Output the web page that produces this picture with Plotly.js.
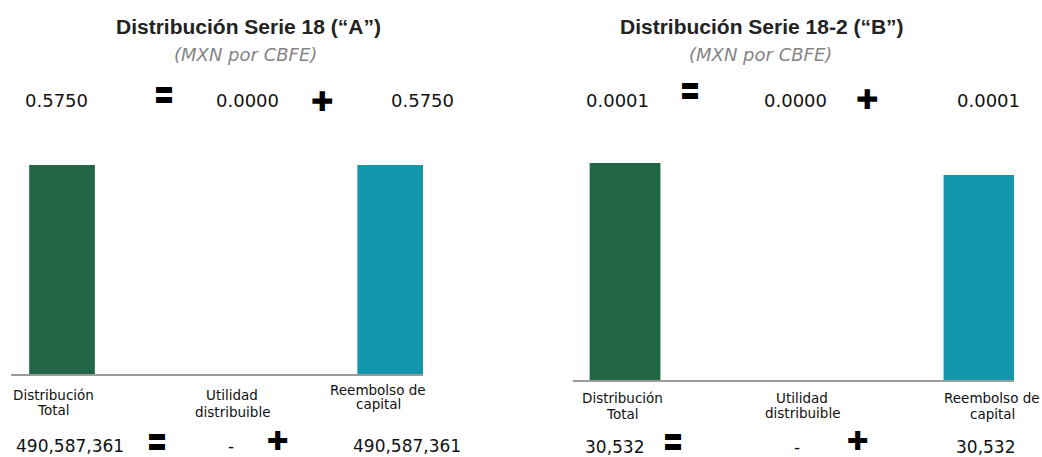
<!DOCTYPE html>
<html>
<head>
<meta charset="utf-8">
<script src="https://cdn.plot.ly/plotly-3.0.1.min.js"></script>
<style>
html,body{margin:0;padding:0;background:#fff;}
#chart{width:1042px;height:457px;}
</style>
</head>
<body>
<div id="chart"></div>
<script>
// ---- data ----
const categories = ['Distribución Total', 'Utilidad distribuible', 'Reembolso de capital'];
const barsA = [490587361, 0, 490587361];      // Serie 18 ("A") bar heights
const barsB = [30532, 0, 28850];              // Serie 18-2 ("B") bar heights (as drawn)
const perCbfeA = ['0.5750', '0.0000', '0.5750'];
const perCbfeB = ['0.0001', '0.0000', '0.0001'];
const totalsA = ['490,587,361', '-', '490,587,361'];
const totalsB = ['30,532', '-', '30,532'];
const titleA = 'Distribución Serie 18 (“A”)';
const titleB = 'Distribución Serie 18-2 (“B”)';
const subtitle = '(MXN por CBFE)';
const labelLines = [['Distribución', 'Total'], ['Utilidad', 'distribuible'], ['Reembolso de', 'capital']];

// ---- styling ----
const GREEN = '#216647';
const TEAL = '#1297ad';
const barColors = [GREEN, GREEN, TEAL];
const W = 1042, H = 457;
const px = x => x / W;
const py = y => 1 - y / H;

const traces = [
  {type: 'bar', x: categories, y: barsA, xaxis: 'x', yaxis: 'y', width: 0.4,
   marker: {color: barColors, line: {width: 0}}, hoverinfo: 'none'},
  {type: 'bar', x: categories, y: barsB, xaxis: 'x2', yaxis: 'y2', width: 0.4,
   marker: {color: barColors, line: {width: 0}}, hoverinfo: 'none'}
];

const ann = [];
function txt(t, x, y, font) {
  ann.push({text: t, x: px(x), y: py(y), xref: 'paper', yref: 'paper',
            xanchor: 'center', yanchor: 'middle', showarrow: false, font: font});
}
const fTitle = {family: 'Liberation Sans, Arial, sans-serif', size: 21, color: '#222', weight: 'bold'};
const fSub = {family: 'DejaVu Sans, sans-serif', size: 18, color: '#858585', style: 'italic'};
const fTop = {family: 'DejaVu Sans, sans-serif', size: 18, color: '#111'};
const fBot = {family: 'DejaVu Sans, sans-serif', size: 17, color: '#111'};
const fLab = {family: 'DejaVu Sans, sans-serif', size: 13.5, color: '#111'};
const fEq = {family: 'Noto Sans CJK JP, sans-serif', size: 20, color: '#000'};
const fPlus = {family: 'DejaVu Sans, sans-serif', size: 27, color: '#000'};
const fPlusB = {family: 'DejaVu Sans, sans-serif', size: 26, color: '#000'};

// titles
txt(titleA, 248, 26, fTitle);
txt(subtitle, 245, 54, fSub);
txt(titleB, 762, 26, fTitle);
txt(subtitle, 760, 54, fSub);

// top row (MXN per CBFE)
txt(perCbfeA[0], 56, 100, fTop);
txt('〓', 164, 95, fEq);
txt(perCbfeA[1], 247, 100, fTop);
txt('✚', 322, 101, fPlus);
txt(perCbfeA[2], 422, 100, fTop);

txt(perCbfeB[0], 617, 100, fTop);
txt('〓', 690, 90, fEq);
txt(perCbfeB[1], 795, 100, fTop);
txt('✚', 867, 99, fPlus);
txt(perCbfeB[2], 988, 100, fTop);

// category labels
const labPosA = [[53, 395, 410], [232, 395, 412], [378, 390, 404]];
const labPosB = [[622, 398, 414], [802, 398, 413], [992, 398, 414]];
labelLines.forEach((l, i) => {
  txt(l[0], labPosA[i][0], labPosA[i][1], fLab);
  txt(l[1], labPosA[i][0], labPosA[i][2], fLab);
  txt(l[0], labPosB[i][0], labPosB[i][1], fLab);
  txt(l[1], labPosB[i][0], labPosB[i][2], fLab);
});

// bottom row totals
txt(totalsA[0], 70, 446, fBot);
txt('〓', 157, 441, fEq);
txt(totalsA[1], 231, 446, fBot);
txt('✚', 278, 441, fPlusB);
txt(totalsA[2], 407, 446, fBot);

txt(totalsB[0], 614, 447, fBot);
txt('〓', 673, 441, fEq);
txt(totalsB[1], 797, 447, fBot);
txt('✚', 858, 441, fPlusB);
txt(totalsB[2], 985, 447, fBot);

const xCommon = {type: 'category', showline: true, linecolor: '#9a9a9a', linewidth: 2,
  showticklabels: false, ticks: '', showgrid: false, zeroline: false, fixedrange: true};
const yCommon = {visible: false, showgrid: false, zeroline: false, fixedrange: true};

const layout = {
  width: W, height: H,
  margin: {l: 0, r: 0, t: 0, b: 0},
  paper_bgcolor: '#fff', plot_bgcolor: 'rgba(0,0,0,0)',
  showlegend: false,
  xaxis: Object.assign({}, xCommon, {domain: [px(11), px(423)], range: [-0.311, 2.2], anchor: 'y'}),
  yaxis: Object.assign({}, yCommon, {domain: [py(374), py(165)], range: [0, barsA[0]], anchor: 'x'}),
  xaxis2: Object.assign({}, xCommon, {domain: [px(573), px(1014)], range: [-0.294, 2.198], anchor: 'y2'}),
  yaxis2: Object.assign({}, yCommon, {domain: [py(380), py(163)], range: [0, barsB[0]], anchor: 'x2'}),
  annotations: ann
};

Plotly.newPlot('chart', traces, layout, {displayModeBar: false, staticPlot: true});
</script>
</body>
</html>
